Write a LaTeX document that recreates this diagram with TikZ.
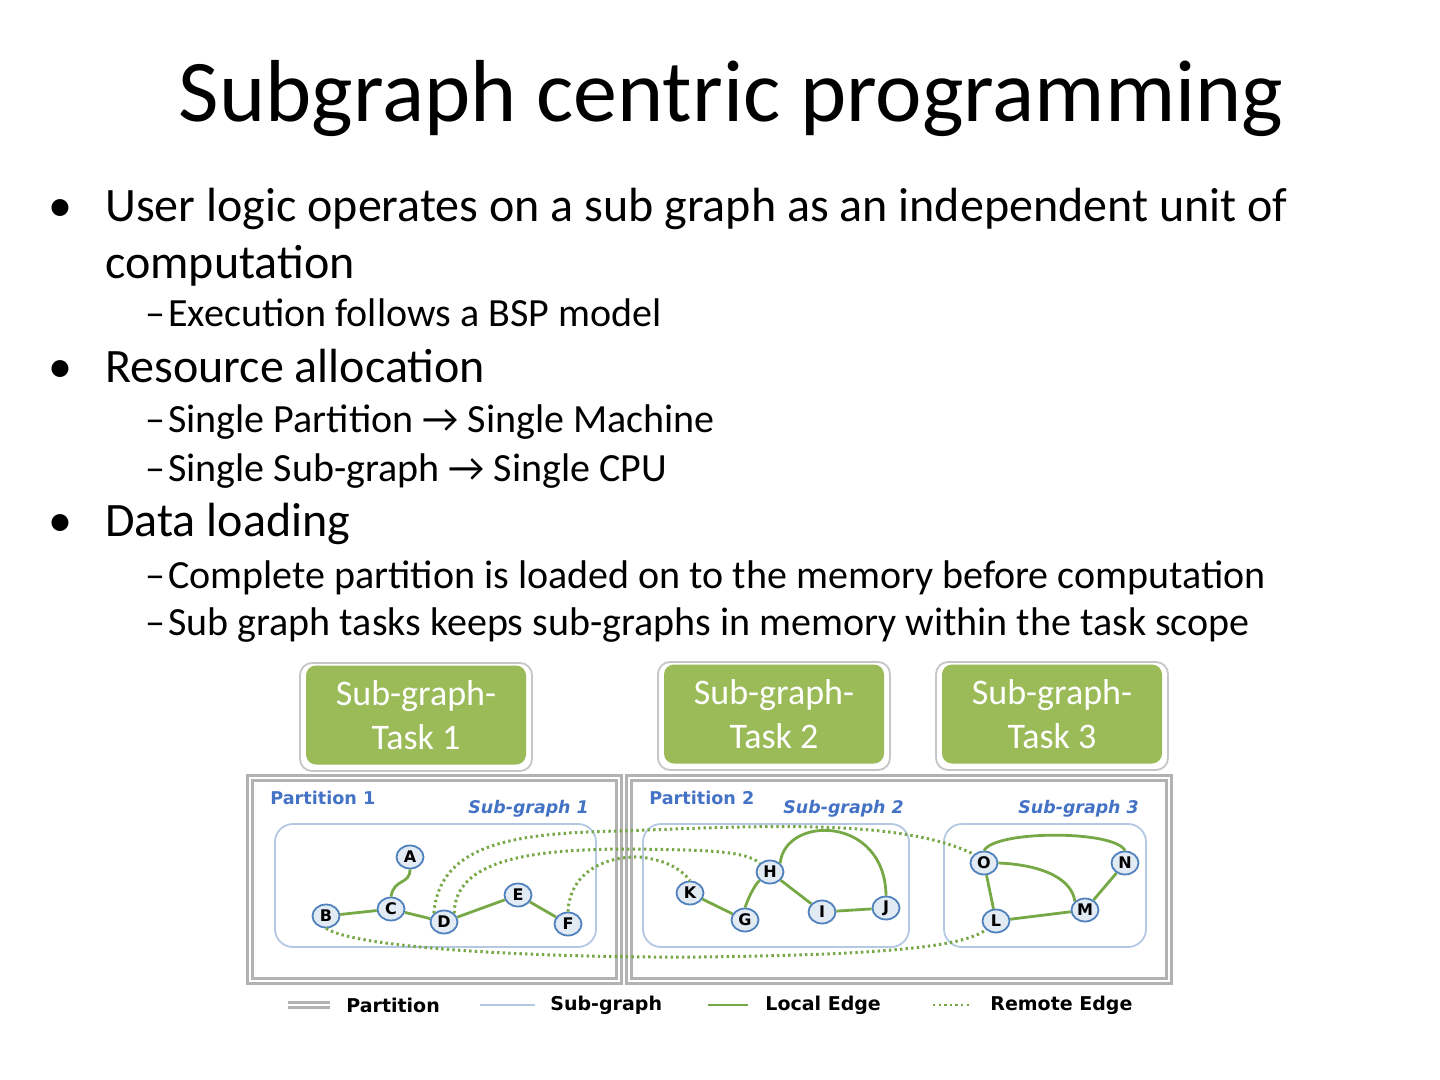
\documentclass[tikz,border=0pt]{standalone}
\usepackage{fontspec}
\setmainfont{Carlito}
\newfontfamily\diagfont{DejaVu Sans}
\usetikzlibrary{arrows.meta,calc,positioning,shapes.geometric}

\definecolor{taskgreen}{HTML}{9BBB59}
\definecolor{edgegreen}{HTML}{77A846}
\definecolor{sgblue}{HTML}{B4C8E4}
\definecolor{vtxblue}{HTML}{4F81BD}
\definecolor{vtxfill}{HTML}{E2EAF4}
\definecolor{lblblue}{HTML}{4472C4}

\tikzset{
  lone/.style={anchor=base west, inner sep=0pt, font=\fontsize{24}{29}\selectfont},
  ltwo/.style={anchor=base west, inner sep=0pt, font=\fontsize{20}{24}\selectfont},
  vtx/.style={ellipse, draw=vtxblue, fill=vtxfill, line width=0.9pt, minimum width=13.5pt,
    minimum height=11.5pt, inner sep=0pt, font=\diagfont\bfseries\fontsize{8}{9}\selectfont},
  local/.style={edgegreen, line width=1.4pt},
  remote/.style={edgegreen, line width=1.5pt, dash pattern=on 1.2pt off 1.6pt},
  partbox/.style={draw=gray!60, double=white, double distance=0.9pt, line width=1.7pt},
  sgbox/.style={draw=sgblue, line width=0.9pt, rounded corners=9pt},
  taskbox/.style={fill=taskgreen, rounded corners=5pt, text=white, align=center,
    font=\fontsize{18}{22}\selectfont, minimum width=110pt, minimum height=49.5pt, inner sep=0pt},
  taskframe/.style={draw=gray!45, fill=white, line width=0.9pt, rounded corners=6pt,
    minimum width=116pt, minimum height=54pt, inner sep=0pt},
  plbl/.style={anchor=west, inner sep=0pt, text=lblblue, font=\diagfont\bfseries\fontsize{8.8}{10}\selectfont},
  slbl/.style={plbl, font=\diagfont\bfseries\itshape\fontsize{8.7}{10}\selectfont},
  legtxt/.style={anchor=west, inner sep=0pt, font=\diagfont\bfseries\fontsize{9.5}{11}\selectfont}
}

\begin{document}
\begin{tikzpicture}[x=0.5pt, y=-0.5pt]
    \useasboundingbox (0,0) rectangle (1440,1080);

    % titolo
    \node[anchor=base, inner sep=0pt, font=\fontsize{44}{53}\selectfont] (title) at (731,122) {Subgraph centric programming};

    % elenco puntato
    \node[lone, anchor=base] (d1) at (60,222) {•};
    \node[lone] (b1) at (105,222) {User logic operates on a sub graph as an independent unit of};
    \node[lone] (b1b) at (105,279) {computation};
    \node[ltwo, anchor=base] (e1) at (155,327) {–};
    \node[ltwo] (b1a) at (168,327) {Execution follows a BSP model};
    \node[lone, anchor=base] (d2) at (60,383) {•};
    \node[lone] (b2) at (105,383) {Resource allocation};
    \node[ltwo, anchor=base] (e2) at (155,433) {–};
    \node[ltwo] (b2a) at (168,433) {Single Partition → Single Machine};
    \node[ltwo, anchor=base] (e3) at (155,481) {–};
    \node[ltwo] (b2b) at (168,481) {Single Sub-graph → Single CPU};
    \node[lone, anchor=base] (d3) at (60,536) {•};
    \node[lone] (b3) at (105,536) {Data loading};
    \node[ltwo, anchor=base] (e4) at (155,588) {–};
    \node[ltwo] (b3a) at (168,588) {Complete partition is loaded on to the memory before computation};
    \node[ltwo, anchor=base] (e5) at (155,635) {–};
    \node[ltwo] (b3b) at (168,635) {Sub graph tasks keeps sub-graphs in memory within the task scope};

    % task
    \node[taskframe] (f1) at (416,717) {};
    \node[taskbox] (t1) at (416,715) {Sub-graph-\\Task 1};
    \node[taskframe] (f2) at (774,716) {};
    \node[taskbox] (t2) at (774,714) {Sub-graph-\\Task 2};
    \node[taskframe] (f3) at (1052,716) {};
    \node[taskbox] (t3) at (1052,714) {Sub-graph-\\Task 3};

    % partizioni e sottografi
    \draw[partbox] (250,778) rectangle (619,981);
    \draw[partbox] (629,778) rectangle (1169,981);
    \draw[sgbox] (275,824) rectangle (596,947);
    \draw[sgbox] (643,824) rectangle (909,947);
    \draw[sgbox] (944,824) rectangle (1146,947);
    \node[plbl] (p1) at (270,798) {Partition 1};
    \node[plbl] (p2) at (649,798) {Partition 2};
    \node[slbl] (s1) at (468,809) {Sub-graph 1};
    \node[slbl] (s2) at (783,809) {Sub-graph 2};
    \node[slbl] (s3) at (1018,809) {Sub-graph 3};

    % vertici
    \node[vtx] (A) at (410,857) {A};
    \node[vtx] (B) at (326,916) {B};
    \node[vtx] (C) at (391,909) {C};
    \node[vtx] (D) at (444,922) {D};
    \node[vtx] (E) at (518,895) {E};
    \node[vtx] (F) at (568,924) {F};
    \node[vtx] (K) at (690,893) {K};
    \node[vtx] (G) at (745,920) {G};
    \node[vtx] (H) at (770,872) {H};
    \node[vtx] (I) at (822,912) {I};
    \node[vtx] (J) at (886,908) {J};
    \node[vtx] (O) at (984,863) {O};
    \node[vtx] (N) at (1125,863) {N};
    \node[vtx] (M) at (1085,910) {M};
    \node[vtx] (L) at (996,921) {L};

    % archi locali
    \draw[local] (A.south) .. controls (410,885) and (394,878) .. (C.north);
    \draw[local] (B) -- (C);
    \draw[local] (C) -- (D);
    \draw[local] (D) -- (E);
    \draw[local] (E) -- (F);
    \draw[local] (K) -- (G);
    \draw[local] (G.north) .. controls (749,895) and (758,880) .. (H.south west);
    \draw[local] (H) -- (I);
    \draw[local] (I) -- (J);
    \draw[local] (H.north east) .. controls (785,815) and (885,815) .. (J.north);
    \draw[local] (O.north) .. controls (995,830) and (1115,830) .. (N.north);
    \draw[local] (O.east) .. controls (1045,865) and (1072,880) .. (M.north west);
    \draw[local] (N) -- (M);
    \draw[local] (O) -- (L);
    \draw[local] (L) -- (M);

    % archi remoti
    \draw[remote] (D.north west) .. controls (440,845) and (510,833) .. (620,831)
        .. controls (760,826) and (900,818) .. (O.north west);
    \draw[remote] (D.north east) .. controls (455,860) and (530,849) .. (630,849)
        .. controls (700,850) and (745,850) .. (H.north west);
    \draw[remote] (F.north) .. controls (570,872) and (605,856) .. (640,857)
        .. controls (665,860) and (680,868) .. (K.north);
    \draw[remote] (B.south) .. controls (360,950) and (560,958) .. (700,957)
        .. controls (850,955) and (960,950) .. (L.south west);

    % legenda
    \draw[draw=gray!60, double=white, double distance=0.7pt, line width=1.5pt] (288,1005) -- (330,1005);
    \node[legtxt] (lg1) at (346,1005) {Partition};
    \draw[sgblue, line width=0.8pt] (480,1005) -- (535,1005);
    \node[legtxt] (lg2) at (550,1005) {Sub-graph};
    \draw[local, line width=1.1pt] (708,1005) -- (748,1005);
    \node[legtxt] (lg3) at (765,1005) {Local Edge};
    \draw[remote, line width=0.8pt] (933,1005) -- (970,1005);
    \node[legtxt] (lg4) at (990,1005) {Remote Edge};
\end{tikzpicture}
\end{document}
